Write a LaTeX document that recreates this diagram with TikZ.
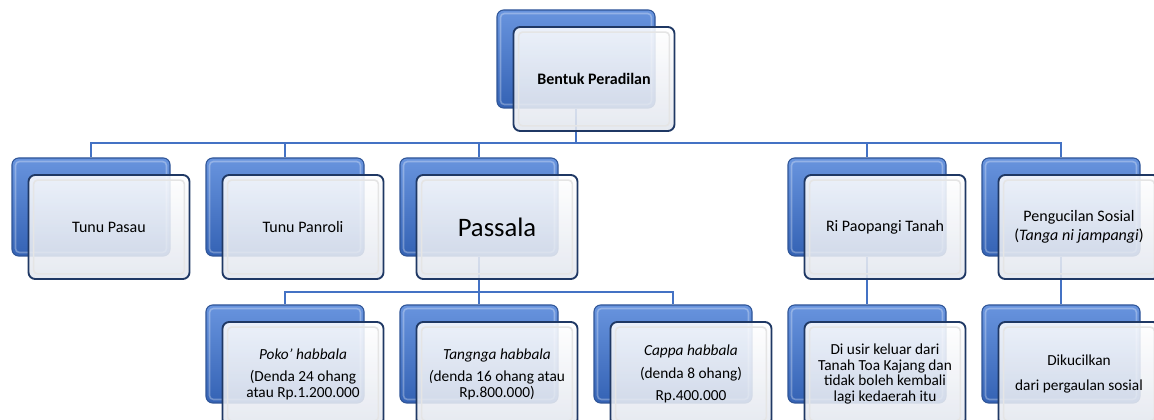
\documentclass[tikz,border=0pt]{standalone}
\usepackage{fontspec}
\setmainfont{Carlito}
\definecolor{linkblue}{RGB}{68,114,196}
\definecolor{backtop}{RGB}{104,148,222}
\definecolor{backbot}{RGB}{52,98,180}
\definecolor{backline}{RGB}{47,85,151}
\definecolor{frontline}{RGB}{31,56,100}
\definecolor{frontbot}{RGB}{226,230,238}
\tikzset{
	backbox/.style={rectangle, rounded corners=5pt, draw=backline, line width=0.8pt, top color=backtop, bottom color=backbot, minimum width=118.5pt, minimum height=73.5pt, inner sep=0pt},
	frontbox/.style={rectangle, rounded corners=5pt, draw=frontline, line width=1.4pt, top color=white, bottom color=frontbot, fill opacity=0.88, text opacity=1, minimum width=120.75pt, minimum height=78pt, inner sep=2pt, align=center, font=\fontsize{12}{14}\selectfont},
	lowtext/.style={font=\fontsize{11.5}{11.8}\selectfont},
	bevel/.style={draw=black!10, line width=1.2pt, rounded corners=3pt},
	backbevel/.style={draw=white, draw opacity=0.3, line width=1.2pt, rounded corners=3pt},
	link/.style={draw=linkblue, line width=2pt},
}

\begin{document}
\begin{tikzpicture}[x=0.75pt, y=-0.75pt]
		%%%%% START %%%%%
		\useasboundingbox (0,0) rectangle (1154,420);
		
		% blue boxes behind
		\foreach \n/\x/\y in {top/576/59, pasau/91/207, panroli/285/207, passala/479/207, paopangi/867/207, kucil/1061/207, poko/285/354, tangnga/479/354, cappa/673/354, usir/867/354, dikucil/1061/354}
			\node[backbox] (\n-b) at (\x,\y) {};
		\foreach \n in {top,pasau,panroli,passala,paopangi,kucil,poko,tangnga,cappa,usir,dikucil}
			\draw[backbevel] ([shift={(4,4)}]\n-b.north west) rectangle ([shift={(-4,-4)}]\n-b.south east);
		
		% connectors
		\coordinate (bar1) at (576,143);
		\coordinate (bar2) at (479,292);
		\draw[link] (top-b.south) -- (bar1);
		\foreach \n in {pasau,panroli,passala,paopangi,kucil}
			\draw[link] (bar1) -| (\n-b.north);
		\draw[link] (passala-b.south) -- (bar2);
		\foreach \n in {poko,tangnga,cappa}
			\draw[link] (bar2) -| (\n-b.north);
		\draw[link] (paopangi-b.south) -- (usir-b.north);
		\draw[link] (kucil-b.south) -- (dikucil-b.north);
		
		% front boxes
		\node[frontbox, font=\fontsize{12}{14}\selectfont\bfseries] (top) at ([shift={(18,20)}]top-b) {Bentuk Peradilan};
		\node[frontbox] (pasau) at ([shift={(18,20)}]pasau-b) {Tunu Pasau};
		\node[frontbox] (panroli) at ([shift={(18,20)}]panroli-b) {Tunu Panroli};
		\node[frontbox, font=\fontsize{20}{24}\selectfont] (passala) at ([shift={(18,20)}]passala-b) {Passala};
		\node[frontbox] (paopangi) at ([shift={(18,20)}]paopangi-b) {Ri Paopangi Tanah};
		\node[frontbox] (kucil) at ([shift={(18,20)}]kucil-b) {Pengucilan Sosial\\(\textit{Tanga ni jampangi})};
		
		\node[frontbox, lowtext] (poko) at ([shift={(18,20)}]poko-b) {\textit{Poko' habbala}\\[5pt](Denda 24 ohang\\atau Rp.1.200.000};
		\node[frontbox, lowtext] (tangnga) at ([shift={(18,20)}]tangnga-b) {\textit{Tangnga habbala}\\[5pt]\textit{(}denda 16 ohang atau\\Rp.800.000)};
		\node[frontbox, lowtext] (cappa) at ([shift={(18,20)}]cappa-b) {\textit{Cappa habbala}\\[5pt](denda 8 ohang)\\[5pt]Rp.400.000};
		\node[frontbox, lowtext] (usir) at ([shift={(18,20)}]usir-b) {Di usir keluar dari\\Tanah Toa Kajang dan\\tidak boleh kembali\\lagi kedaerah itu};
		\node[frontbox, lowtext] (dikucil) at ([shift={(18,20)}]dikucil-b) {Dikucilkan\\[7pt]dari pergaulan sosial};
		
		\foreach \n in {top,pasau,panroli,passala,paopangi,kucil,poko,tangnga,cappa,usir,dikucil}
			\draw[bevel] ([shift={(6,6)}]\n.north west) rectangle ([shift={(-6,-6)}]\n.south east);
		
		%%%%% END %%%%%
	\end{tikzpicture}
\end{document}
